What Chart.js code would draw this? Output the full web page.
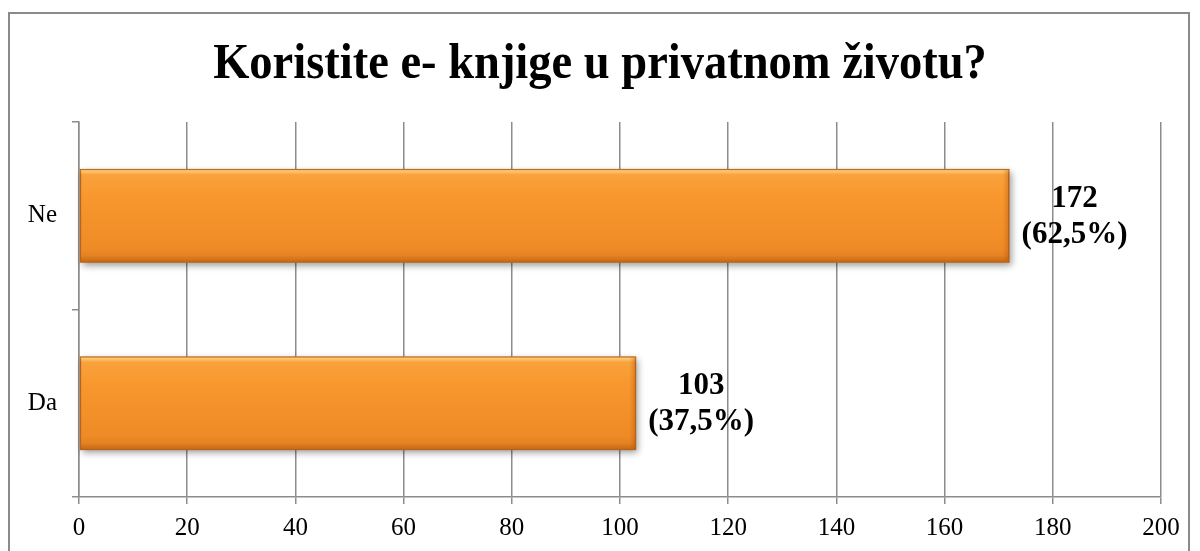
<!DOCTYPE html>
<html>
<head>
<meta charset="utf-8">
<script src="https://cdn.jsdelivr.net/npm/chart.js@4"></script>
<style>
    html, body { margin: 0; padding: 0; background: #fff; }
    #wrap { position: relative; width: 1200px; height: 551px; overflow: hidden; }
    #frame { position: absolute; left: 8px; top: 12px; width: 1182px; height: 600px; border: 2px solid #8a8a8a; box-sizing: border-box; }
    #chartContainer { position: absolute; left: 0; top: 0; }
</style>
</head>
<body>
<div id="wrap">
    <div id="frame"></div>
    <canvas id="chartContainer" width="1200" height="551"></canvas>
</div>
<script>
// Chart data
const chartTitle = 'Koristite e- knjige u privatnom životu?';
const categories = ['Ne', 'Da'];
const answers = [172, 103];
const shares = ['(62,5%)', '(37,5%)'];
const xTicks = [0, 20, 40, 60, 80, 100, 120, 140, 160, 180, 200];

const SERIF = "'Liberation Serif', 'Times New Roman', serif";

// title drawn centred on the whole canvas (the plot is not centred),
// a little taller than wide like the original
const titlePlugin = {
    id: 'pageTitle',
    afterDraw(chart) {
        const ctx = chart.ctx;
        ctx.save();
        ctx.translate(600, 78);
        ctx.scale(1, 1.1);
        ctx.fillStyle = '#000';
        ctx.font = 'bold 46.5px ' + SERIF;
        ctx.textAlign = 'center';
        ctx.textBaseline = 'alphabetic';
        ctx.fillText(chartTitle, 0, 0);
        ctx.restore();
    }
};

// shadow + vertical gradient for each bar, set once the bars have their size
const barLook = {
    id: 'barLook',
    beforeDatasetsDraw(chart) {
        const ctx = chart.ctx;
        chart.getDatasetMeta(0).data.forEach(function (bar) {
            const top = bar.y - bar.height / 2;
            const left = bar.base;
            const g = ctx.createLinearGradient(0, top, 0, top + bar.height);
            g.addColorStop(0, '#FCB65C');
            g.addColorStop(0.06, '#FAA23C');
            g.addColorStop(0.3, '#F8972D');
            g.addColorStop(0.85, '#EF8B26');
            g.addColorStop(1, '#DA791D');
            bar.options.backgroundColor = g;

            // soft drop shadow under the bar
            ctx.save();
            ctx.shadowColor = 'rgba(0,0,0,0.4)';
            ctx.shadowBlur = 7;
            ctx.shadowOffsetX = 2;
            ctx.shadowOffsetY = 3;
            ctx.fillStyle = '#D07A20';
            ctx.fillRect(left, top, bar.x - left, bar.height);
            ctx.restore();
        });
    },
    afterDatasetsDraw(chart) {
        const ctx = chart.ctx;
        chart.getDatasetMeta(0).data.forEach(function (bar) {
            const top = bar.y - bar.height / 2;
            const bottom = top + bar.height;
            const left = bar.base + 1;
            const right = bar.x - 1;
            ctx.save();
            // top bevel
            let g = ctx.createLinearGradient(0, top, 0, top + 6);
            g.addColorStop(0, 'rgba(255,225,150,0.8)');
            g.addColorStop(1, 'rgba(255,215,140,0)');
            ctx.fillStyle = g;
            ctx.fillRect(left, top + 1, right - left, 6);
            // bottom bevel
            g = ctx.createLinearGradient(0, bottom - 7, 0, bottom);
            g.addColorStop(0, 'rgba(170,80,10,0)');
            g.addColorStop(1, 'rgba(170,80,10,0.45)');
            ctx.fillStyle = g;
            ctx.fillRect(left, bottom - 8, right - left, 7);
            // right bevel
            g = ctx.createLinearGradient(right - 6, 0, right, 0);
            g.addColorStop(0, 'rgba(170,80,10,0)');
            g.addColorStop(1, 'rgba(170,80,10,0.35)');
            ctx.fillStyle = g;
            ctx.fillRect(right - 6, top + 1, 6, bar.height - 2);
            ctx.restore();
        });
    }
};

const valueLabels = {
    id: 'valueLabels',
    afterDraw(chart) {
        const ctx = chart.ctx;
        const meta = chart.getDatasetMeta(0);
        ctx.save();
        ctx.fillStyle = '#000';
        ctx.font = 'bold 31px ' + SERIF;
        ctx.textAlign = 'center';
        ctx.textBaseline = 'alphabetic';
        meta.data.forEach(function (bar, i) {
            const x = bar.x + 65;
            ctx.fillText(String(answers[i]), x, bar.y - 9);
            ctx.fillText(shares[i], x, bar.y + 27);
        });
        ctx.restore();
    }
};

document.addEventListener('DOMContentLoaded', function () {
    const ctx = document.getElementById('chartContainer').getContext('2d');
    new Chart(ctx, {
        type: 'bar',
        data: {
            labels: categories,
            datasets: [{
                data: answers,
                // scriptable so every bar keeps its own options object
                backgroundColor: function (c) { return c.dataIndex === 0 ? '#F7962E' : '#F7962F'; },
                borderColor: '#B4651F',
                borderWidth: 1.5,
                borderSkipped: false,
                categoryPercentage: 0.5,
                barPercentage: 1
            }]
        },
        options: {
            indexAxis: 'y',
            responsive: false,
            animation: false,
            layout: { padding: { left: 0, right: 39, top: 122, bottom: 0 } },
            scales: {
                x: {
                    min: 0,
                    max: 200,
                    afterBuildTicks: function (scale) {
                        scale.ticks = xTicks.map(v => ({ value: v }));
                    },
                    afterFit: function (scale) { scale.height = 54; },
                    grid: { color: '#8c8c8c', lineWidth: 1.5, tickLength: 7 },
                    border: { color: '#8c8c8c', width: 1.5 },
                    ticks: { color: '#000', padding: 9, font: { family: SERIF, size: 25 } }
                },
                y: {
                    afterFit: function (scale) { scale.width = 79; },
                    grid: { offset: true, drawOnChartArea: false, color: '#8c8c8c', lineWidth: 1.5, tickLength: 7 },
                    border: { color: '#8c8c8c', width: 1.5 },
                    ticks: { color: '#000', padding: 15, font: { family: SERIF, size: 25 } }
                }
            },
            plugins: {
                legend: { display: false },
                tooltip: { enabled: false },
                title: { display: false }
            }
        },
        plugins: [barLook, valueLabels, titlePlugin]
    });
});
</script>
</body>
</html>
